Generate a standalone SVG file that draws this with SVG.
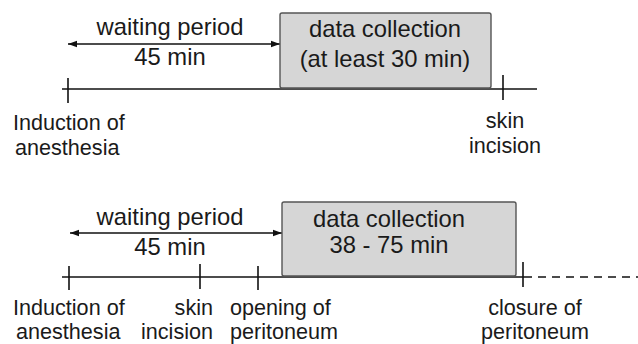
<svg xmlns="http://www.w3.org/2000/svg" width="638" height="344" viewBox="0 0 638 344">
<style>
.t{font-family:"Liberation Sans",Arial,sans-serif;fill:#1a1a1a}
.h{font-size:23.8px;text-anchor:middle}
.l{font-size:21.6px}
.ln{stroke:#111;stroke-width:1.6;fill:none}
.box{fill:#d6d6d6;stroke:#555;stroke-width:1.4}
</style>
<defs>
<marker id="ah" viewBox="0 0 10 10" refX="10" refY="5" markerWidth="9" markerHeight="9" markerUnits="userSpaceOnUse" orient="auto-start-reverse">
<path d="M0,1.5 L10,5 L0,8.5 Z" fill="#111"/>
</marker>
</defs>
<g id="connectors">
<line class="ln" x1="62" y1="89" x2="537" y2="89"/>
<line class="ln" x1="68" y1="78" x2="68" y2="103"/>
<line class="ln" x1="503" y1="75" x2="503" y2="100"/>
<line class="ln" x1="68" y1="44" x2="280" y2="44" marker-start="url(#ah)" marker-end="url(#ah)" stroke-width="1.3"/>
<line class="ln" x1="62" y1="277" x2="524" y2="277"/>
<line class="ln" x1="524" y1="277" x2="638" y2="277" stroke-dasharray="8,6"/>
<line class="ln" x1="69" y1="266" x2="69" y2="290"/>
<line class="ln" x1="200" y1="264" x2="200" y2="289"/>
<line class="ln" x1="258" y1="266" x2="258" y2="290"/>
<line class="ln" x1="523" y1="262" x2="523" y2="287"/>
<line class="ln" x1="70" y1="233" x2="282" y2="233" marker-start="url(#ah)" marker-end="url(#ah)" stroke-width="1.3"/>
</g>
<g id="wait1">
<text class="t h" x="170" y="35">waiting period</text>
<text class="t h" x="170" y="65">45 min</text>
</g>
<g id="data1">
<rect class="box" x="280" y="13" width="211" height="75" rx="2"/>
<text class="t h" x="385" y="37">data collection</text>
<text class="t h" x="385" y="67">(at least 30 min)</text>
</g>
<g id="induction1">
<text class="t l" x="13" y="130">Induction of</text>
<text class="t l" x="15" y="155">anesthesia</text>
</g>
<g id="skin1">
<text class="t l" x="505" y="128" text-anchor="middle">skin</text>
<text class="t l" x="505" y="153" text-anchor="middle">incision</text>
</g>
<g id="wait2">
<text class="t h" x="170" y="225">waiting period</text>
<text class="t h" x="170" y="255">45 min</text>
</g>
<g id="data2">
<rect class="box" x="282" y="202" width="234" height="74" rx="2"/>
<text class="t h" x="389" y="227">data collection</text>
<text class="t h" x="389" y="253">38 - 75 min</text>
</g>
<g id="induction2">
<text class="t l" x="13" y="315">Induction of</text>
<text class="t l" x="16" y="339">anesthesia</text>
</g>
<g id="skin2">
<text class="t l" x="213" y="315" text-anchor="end">skin</text>
<text class="t l" x="213" y="339" text-anchor="end">incision</text>
</g>
<g id="opening">
<text class="t l" x="230" y="315">opening of</text>
<text class="t l" x="230" y="339">peritoneum</text>
</g>
<g id="closure">
<text class="t l" x="535" y="315" text-anchor="middle">closure of</text>
<text class="t l" x="535" y="339" text-anchor="middle">peritoneum</text>
</g>
</svg>
